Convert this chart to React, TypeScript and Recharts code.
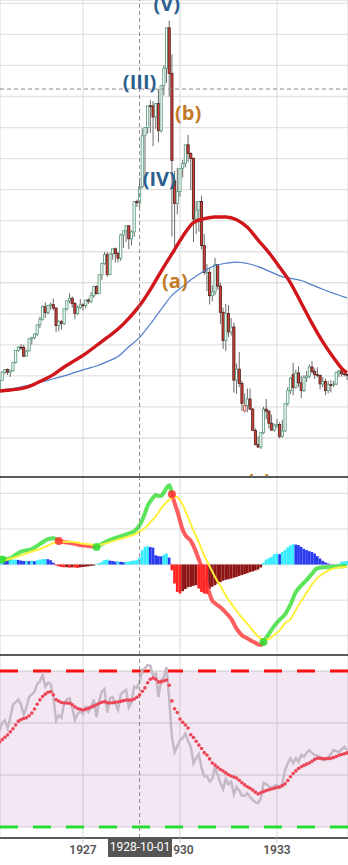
import React from "react";
import {
  ComposedChart, Bar, Line, Scatter, XAxis, YAxis, CartesianGrid,
  ReferenceLine, ReferenceArea,
} from "recharts";

// ── monthly candles, index 0 = 1924-06, last = 1935-03 ─────────────
const open = [
  90.0, 96.4, 103.1, 105.2, 103.0, 104.1, 110.9,
  120.5, 123.2, 122.8, 115.9, 120.0, 129.9, 131.0, 133.8, 141.2, 145.7, 155.7, 151.1,
  156.7, 157.4, 154.7, 140.5, 143.7, 142.3, 154.0, 160.4, 162.5, 158.2, 150.4, 155.0,
  157.2, 156.6, 161.1, 160.1, 164.6, 172.0, 166.2, 181.4, 190.6, 197.6, 181.7, 198.2,
  202.4, 198.6, 194.8, 213.5, 216.9, 220.9, 210.4, 216.0, 240.4, 239.4, 252.2, 293.4,
  300.0, 317.5, 317.4, 308.5, 319.3, 297.4, 333.8, 347.7, 380.3, 343.5, 257.0, 238.9,
  248.5, 267.1, 271.1, 286.1, 279.2, 275.1, 226.3, 233.5, 240.4, 204.9, 183.4, 183.4,
  164.6, 167.7, 189.7, 172.4, 151.2, 128.5, 150.2, 135.4, 139.4, 96.6, 105.4, 93.9,
  72.0, 76.2, 81.4, 73.3, 56.1, 44.7, 42.8, 54.3, 73.2, 71.6, 61.9, 56.4,
  59.9, 60.9, 51.4, 55.7, 77.7, 88.1, 101.0, 90.8, 102.4, 94.4, 88.2, 98.7,
  99.9, 107.2, 103.5, 101.0, 100.5, 93.6, 95.6, 88.1, 93.0, 92.6, 93.4, 102.9,
  104.0, 101.7, 101.1,
];
const high = [
  97.5, 103.5, 105.6, 106.0, 105.0, 111.4, 120.6,
  123.6, 125.7, 125.2, 121.0, 130.2, 131.4, 134.2, 141.5, 147.7, 156.8, 159.4, 157.0,
  159.1, 162.3, 155.0, 144.8, 145.0, 154.5, 160.6, 166.6, 164.0, 159.5, 156.6, 161.9,
  158.5, 161.5, 162.5, 167.4, 172.6, 172.9, 182.0, 191.0, 199.8, 199.8, 198.7, 202.4,
  203.4, 200.0, 214.5, 216.9, 220.9, 221.0, 217.3, 241.0, 242.0, 259.5, 299.4, 300.0,
  317.5, 322.1, 321.2, 319.3, 331.0, 333.8, 350.0, 380.3, 386.1, 358.8, 265.0, 267.6,
  267.1, 274.0, 286.1, 294.1, 280.0, 276.0, 240.8, 241.0, 245.1, 214.2, 190.0, 186.0,
  173.0, 195.0, 190.0, 175.0, 155.0, 157.9, 157.0, 146.5, 143.0, 110.0, 119.2, 96.0,
  85.9, 89.8, 89.9, 74.0, 57.8, 51.4, 54.5, 75.2, 81.4, 72.5, 68.9, 61.6,
  65.2, 62.8, 64.6, 77.7, 91.0, 99.0, 110.5, 105.0, 107.7, 100.0, 100.5, 104.0,
  109.0, 111.9, 106.0, 107.0, 101.0, 99.0, 98.0, 96.0, 96.5, 96.0, 103.5, 105.0,
  106.7, 104.0, 102.0,
];
const low = [
  88.3, 96.0, 101.5, 100.8, 99.2, 103.5, 109.8,
  119.5, 120.9, 115.0, 115.5, 119.8, 125.2, 129.5, 132.0, 138.7, 144.5, 146.7, 149.5,
  153.2, 152.7, 135.2, 136.0, 137.2, 141.0, 152.5, 158.5, 155.0, 145.7, 149.0, 154.0,
  152.7, 154.5, 158.0, 158.5, 163.0, 165.7, 166.0, 177.1, 189.5, 179.8, 181.0, 193.6,
  191.3, 191.3, 192.5, 203.0, 207.9, 202.0, 205.1, 212.0, 236.0, 236.0, 251.0, 254.4,
  295.0, 295.9, 285.0, 299.1, 288.0, 296.0, 326.0, 336.0, 325.0, 212.3, 198.7, 230.0,
  244.2, 259.8, 268.0, 272.2, 249.8, 207.7, 214.1, 216.1, 201.9, 181.5, 168.3, 157.5,
  160.0, 165.0, 169.5, 141.8, 121.7, 119.9, 131.3, 132.5, 86.5, 85.5, 91.0, 71.8,
  70.6, 70.6, 72.5, 55.9, 44.0, 41.9, 41.2, 53.2, 65.1, 57.7, 55.9, 55.0,
  58.0, 49.7, 50.2, 55.0, 76.0, 85.5, 84.5, 89.7, 91.0, 82.2, 87.0, 95.0,
  98.0, 101.9, 97.5, 98.8, 89.0, 90.9, 84.6, 86.0, 86.7, 91.0, 92.5, 99.0,
  99.5, 99.7, 96.7,
];
const close = [
  96.4, 103.1, 105.2, 103.0, 104.1, 110.9, 120.5,
  123.2, 122.8, 115.9, 120.0, 129.9, 131.0, 133.8, 141.2, 145.7, 155.7, 151.1, 156.7,
  157.4, 154.7, 140.5, 143.7, 142.3, 154.0, 160.4, 162.5, 158.2, 150.4, 155.0, 157.2,
  156.6, 161.1, 160.1, 164.6, 172.0, 166.2, 181.4, 190.6, 197.6, 181.7, 198.2, 202.4,
  198.6, 194.8, 213.5, 216.9, 220.9, 210.4, 216.0, 240.4, 239.4, 252.2, 293.4, 300.0,
  317.5, 317.4, 308.5, 319.3, 297.4, 333.8, 347.7, 380.3, 343.5, 273.5, 238.9, 248.5,
  267.1, 271.1, 286.1, 279.2, 275.1, 226.3, 233.5, 240.4, 204.9, 183.4, 183.4, 164.6,
  167.7, 189.7, 172.4, 151.2, 128.5, 150.2, 135.4, 139.4, 96.6, 105.4, 93.9, 77.9,
  76.2, 81.4, 73.3, 56.1, 44.7, 42.8, 54.3, 73.2, 71.6, 61.9, 56.4, 59.9,
  60.9, 51.4, 55.7, 77.7, 88.1, 98.1, 90.8, 102.4, 94.4, 88.2, 98.7, 99.9,
  107.2, 103.5, 101.0, 100.5, 93.6, 95.6, 88.1, 93.0, 92.6, 93.4, 102.9, 104.0,
  101.7, 101.1, 100.8,
];

// moving averages (read every 4 months)
const maMonths = [0, 4, 8, 12, 16, 20, 24, 28, 32, 36, 40, 44, 48, 52, 56, 60, 64,
  68, 72, 76, 80, 84, 88, 92, 96, 100, 104, 108, 112, 116, 120, 124, 128, 129];
const maRed = [87.8, 88.7, 89.7, 92.4, 96.5, 101.0, 107.2, 112.5, 118.0, 124.5, 131.0,
  137.7, 146.4, 156.6, 169.5, 184.2, 198.2, 212.3, 223.5, 226.6, 228.0, 228.0, 225.8,
  219.7, 209.4, 199.3, 187.5, 175.0, 158.7, 142.3, 127.4, 114.7, 104.0, 102.8];
const maBlue = [88.5, 89.5, 91.2, 93.1, 95.3, 97.7, 100.0, 102.8, 105.5, 108.0, 111.5,
  115.6, 123.5, 131.0, 141.8, 153.5, 164.8, 172.1, 178.8, 184.5, 188.8, 190.7, 191.7,
  190.5, 188.0, 184.4, 180.6, 178.5, 176.8, 173.3, 169.8, 166.5, 163.5, 162.9];

// MACD line / signal
const macdMonths = [0, 1, 2, 4, 6, 8, 10, 12, 14, 16, 18, 20, 22, 24, 26, 28, 30, 32, 34,
  36, 38, 40, 42, 44, 46, 48, 50, 52, 53, 54, 55, 56, 57, 58, 59, 60, 61, 62, 63, 64, 65,
  66, 67, 68, 69, 70, 71, 72, 73, 74, 75, 76, 77, 78, 79, 80, 81, 82, 84, 86, 88, 90, 92,
  94, 96, 97, 98, 100, 102, 104, 106, 108, 110, 112, 114, 116, 118, 120, 124, 129];
const macdVals = [2.5, 2.8, 3.0, 3.5, 5.5, 7.2, 8.0, 8.7, 10.5, 12.5, 14.2, 14.8, 13.2,
  12.6, 12.2, 11.6, 11.0, 10.6, 10.2, 9.8, 11.5, 13.2, 14.4, 15.3, 16.4, 17.5, 18.6, 22.0,
  25.0, 28.8, 33.0, 35.5, 37.5, 39.0, 38.5, 38.5, 40.5, 43.0, 44.5, 39.5, 34.5, 30.0, 24.5,
  19.5, 16.5, 14.8, 13.3, 10.5, 6.8, 2.8, -1.5, -7.0, -11.0, -16.5, -20.3, -21.8, -23.0,
  -24.0, -27.0, -30.5, -36.0, -39.8, -41.5, -43.2, -44.8, -45.2, -43.5, -39.0, -34.5,
  -31.0, -28.0, -22.6, -15.5, -11.8, -8.7, -5.2, -2.1, -1.6, -1.3, -0.8];
const sigMonths = [0, 4, 8, 12, 16, 20, 22, 26, 30, 34, 36, 40, 44, 48, 50, 52, 54, 56,
  58, 60, 62, 64, 65, 66, 67, 68, 70, 72, 74, 76, 78, 80, 82, 84, 86, 88, 90, 92, 94, 96,
  98, 100, 102, 104, 106, 108, 110, 112, 114, 116, 118, 120, 124, 129];
const sigVals = [1.5, 3.2, 5.2, 7.3, 9.3, 12.0, 12.8, 12.8, 12.0, 11.2, 11.0, 12.1, 14.0,
  15.8, 16.8, 18.5, 20.5, 23.8, 27.0, 31.5, 35.0, 37.5, 38.0, 37.8, 36.0, 33.5, 26.5, 19.0,
  12.5, 5.0, -1.0, -7.0, -12.0, -17.5, -22.0, -26.0, -30.0, -33.3, -37.0, -40.5, -42.2,
  -41.8, -39.5, -37.0, -33.0, -30.8, -25.6, -20.5, -15.8, -11.2, -7.5, -5.2, -2.2, -1.4];
// months where MACD crosses its signal (first one is bullish)
const macdTurns = [1, 22, 36, 64, 98];

const hist = [
  2.8, 2.8, 2.6, 2.4, 2.5, 2.6, 2.7,
  2.6, 2.2, 2.0, 2.0, 1.9, 2.1, 1.9, 2.4, 2.8, 3.0, 3.1, 3.0,
  2.4, 1.0, -0.5, -1.0, -1.4, -1.6, -1.5, -1.8, -1.6, -1.7, -1.9, -1.6,
  -1.4, -1.2, -1.0, -0.8, -0.6, 0.3, 0.8, 1.5, 2.5, 2.8, 2.2, 2.0,
  1.6, 1.8, 1.5, 1.3, 1.4, 1.6, 2.0, 2.3, 2.4, 3.9, 8.0, 9.9,
  10.3, 9.8, 9.5, 5.2, 4.7, 4.6, 5.5, 6.2, 3.9, -3.2, -10.7, -15.4,
  -16.3, -15.0, -13.8, -12.8, -12.5, -12.0, -11.6, -13.5, -15.4, -16.3, -16.5, -13.5,
  -12.5, -11.6, -10.7, -9.9, -9.1, -8.6, -8.3, -7.9, -7.4, -7.0, -6.4, -5.9,
  -5.4, -4.9, -4.3, -3.9, -3.3, -2.8, -1.7, 1.0, 2.8, 3.6, 4.3, 5.8,
  6.2, 5.8, 7.0, 8.1, 9.6, 10.7, 11.4, 11.2, 10.9, 9.9, 8.8, 8.1,
  7.5, 7.0, 6.2, 4.7, 3.4, 2.1, 1.2, 0.6, 0.2, 0.1, 0.1, 0.4,
  1.5, 1.8, 2.0,
];

// oscillator (grey) and its smoothing (red dots)
const rsi = [
  57, 60, 61, 58, 62, 67, 68,
  69, 67, 63, 66, 70, 71, 72, 75, 76, 78.5, 74, 75.5,
  75, 70, 61, 63, 62, 67.7, 69, 69.5, 66, 61.2, 63.5, 64.5,
  63.5, 66, 64.2, 66, 69, 62.3, 68.5, 72, 73, 64, 69.5, 70,
  67.5, 65, 71, 72, 72.7, 66, 68, 74, 73.5, 75.8, 80.4, 81,
  82.3, 82, 78, 79, 70, 76.5, 77.5, 81.5, 69, 54.6, 48.8, 51,
  53.5, 54.2, 56, 53, 51, 44.5, 46.5, 48, 42.7, 39.5, 39.5, 37.5,
  38.5, 43, 40, 37, 34.5, 38.5, 36.5, 37.5, 32.5, 35.4, 34, 32,
  32, 33, 31.5, 30.4, 29.5, 29.2, 31, 36.9, 36.5, 35.5, 35, 35.7,
  36.2, 35.2, 36.9, 41.9, 44.5, 46.5, 44.6, 46.5, 45, 47.7, 47, 48.5,
  49.6, 48.5, 47.7, 47.5, 46.9, 45.8, 46.2, 46.9, 48, 49.6, 49.2, 48.8,
  49.8, 50.8, 49.6,
];
const rsiSmooth = [
  52.7, 53.6, 54.5, 55.4, 56.6, 57.8, 59.2,
  60.7, 61.3, 61.7, 62.0, 62.8, 63.8, 65.4, 67.2, 68.9, 70.2, 71.1, 71.8,
  72.0, 70.8, 69.0, 68.4, 67.9, 67.7, 67.7, 67.6, 67.0, 66.2, 65.6, 65.3,
  65.0, 65.3, 65.7, 66.1, 66.5, 67.0, 67.6, 68.0, 68.2, 67.8, 67.7, 67.8,
  68.0, 68.1, 68.3, 68.6, 68.8, 68.8, 68.8, 69.2, 69.9, 70.8, 72.2, 73.5,
  75.5, 76.8, 77.3, 76.8, 75.8, 75.8, 76.2, 76.5, 74.5, 68.5, 65.5, 64.0,
  61.5, 60.3, 59.2, 58.1, 55.5, 54.4, 53.0, 51.5, 50.2, 48.6, 47.7, 46.2,
  44.6, 43.8, 43.0, 42.1, 41.5, 40.8, 40.1, 39.6, 39.2, 38.8, 38.0, 37.0,
  36.2, 35.5, 34.9, 34.2, 33.4, 32.7, 33.2, 33.6, 34.0, 34.3, 34.6, 34.9,
  35.2, 35.4, 35.9, 36.6, 37.9, 39.3, 40.6, 41.6, 42.5, 43.2, 43.7, 44.2,
  44.6, 45.3, 46.0, 46.4, 46.4, 46.3, 46.2, 46.3, 46.4, 46.7, 47.1, 47.6,
  47.9, 48.2, 48.5,
];

// Elliott wave annotations (month index, price)
const waveText = ["(V)", "(III)", "(b)", "(IV)", "(a)", "(c)"];
const waveMonth = [62.1, 52.0, 70.0, 59.3, 65.1, 96.4];
const wavePrice = [399.5, 336.9, 312.1, 258.6, 177.2, 15.9];
const waveKind = ["impulse", "impulse", "corrective", "impulse", "corrective", "corrective"];

const tickMonths = [31, 67, 103];
const tickLabels = ["1927", "1930", "1933"];
const priceGrid = [25, 50, 75, 100, 125, 150, 175, 200, 225, 250, 275, 300, 325, 350, 375, 400];
const cursorMonth = 52;
const cursorPrice = 331.0;
const cursorLabel = "1928-10-01";

// ── styles ─────────────────────────────────────────────────────
const W = 348;
const X_DOMAIN: [number, number] = [0.19, 129.36];
const M0 = { top: 0, right: 0, bottom: 0, left: 0 };
const GRID = "#e2e2e2";
const CROSS = "#8a8a8a";
const UP = "#5f9f80";
const DOWN_FILL = "#cf3f37";
const DOWN_EDGE = "#4d1c18";
const WICK = "#6b6b6b";
const MACD_UP = "#2fdc2f";
const MACD_DN = "#ff3030";
const waveColor: Record<string, string> = { impulse: "#2c5f8d", corrective: "#c27b2a" };

const candles = close.map((c, i) => ({
  i, o: open[i], h: high[i], l: low[i], c, pc: i ? close[i - 1] : open[i],
}));
const maRows = maMonths.map((i, k) => ({ i, red: maRed[k], blue: maBlue[k] }));
const macdRows = macdMonths.map((i, k) => ({ i, v: macdVals[k] }));
const sigRows = sigMonths.map((i, k) => ({ i, v: sigVals[k] }));
const segEdges = [0, ...macdTurns.slice(1), 129];
const macdSegs = segEdges.slice(0, -1).map((a, s) => ({
  color: s % 2 ? MACD_DN : MACD_UP,
  rows: macdRows.filter(r => r.i >= a && r.i <= segEdges[s + 1]),
}));
const turnRows = macdTurns.map((m, k) => ({
  i: m, v: macdRows.find(r => r.i === m)?.v ?? 0, up: k % 2 === 0,
}));
const histRows = hist.map((h, i) => ({ i, h, prev: i ? hist[i - 1] : h }));
const rsiRows = rsi.map((r, i) => ({ i, r, s: rsiSmooth[i] }));
const waveRows = waveText.map((t, k) => ({ i: waveMonth[k], p: wavePrice[k], t, kind: waveKind[k] }));

function Candle(props: any) {
  const { x, y, width, height, payload } = props;
  if (!payload || x == null) return null;
  const cx = x + width / 2;
  const top = Math.min(y, y + height);
  const bot = Math.max(y, y + height);
  const k = (bot - top) / Math.max(payload.h - payload.l, 1e-6);
  const py = (v: number) => bot - (v - payload.l) * k;
  const bTop = py(Math.max(payload.o, payload.c));
  const bBot = Math.max(py(Math.min(payload.o, payload.c)), bTop + 0.8);
  const rising = payload.c >= payload.o;
  const bw = 2.2;
  return (
    <g>
      <line x1={cx} x2={cx} y1={top} y2={bTop} stroke={WICK} strokeWidth={1} />
      <line x1={cx} x2={cx} y1={bBot} y2={bot} stroke={WICK} strokeWidth={1} />
      {rising ? (
        <rect x={cx - bw / 2} y={bTop} width={bw} height={bBot - bTop} fill="#fff"
          stroke={payload.c < payload.pc ? "#e0463f" : UP} strokeWidth={0.9} />
      ) : (
        <rect x={cx - bw / 2} y={bTop} width={bw} height={bBot - bTop} fill={DOWN_FILL}
          stroke={DOWN_EDGE} strokeWidth={0.8} />
      )}
    </g>
  );
}

function HistBar(props: any) {
  const { x, y, width, height, payload } = props;
  if (!payload || x == null) return null;
  const { h, prev } = payload;
  const fill = h >= 0 ? (h >= prev ? "#36ecff" : "#2a3cf0") : (h <= prev ? "#ff2020" : "#8e1414");
  const cx = x + width / 2;
  return <rect x={cx - 1.35} y={Math.min(y, y + height)} width={2.7} height={Math.abs(height)} fill={fill} />;
}

function WaveLabel(props: any) {
  const { cx, cy, payload } = props;
  return (
    <text x={cx} y={cy} textAnchor="middle" dominantBaseline="central"
      fill={waveColor[payload.kind]} fontSize={20} fontWeight={700}
      fontFamily="'Open Sans', sans-serif">{payload.t}</text>
  );
}

function TurnDot(props: any) {
  const { cx, cy, payload } = props;
  return <circle cx={cx} cy={cy} r={4} fill={payload.up ? MACD_UP : MACD_DN} fillOpacity={0.85} />;
}

const xAxisHidden = (
  <XAxis type="number" dataKey="i" domain={X_DOMAIN} ticks={tickMonths} allowDataOverflow hide />
);

function PricePanel() {
  return (
    <ComposedChart width={W} height={477} data={candles} margin={M0}>
      <CartesianGrid stroke={GRID} strokeWidth={1.3} />
      {xAxisHidden}
      <YAxis type="number" domain={[18.6, 402.7]} ticks={priceGrid} allowDataOverflow hide />
      <Bar dataKey={(d: any) => [d.l, d.h]} shape={(p: any) => <Candle {...p} />} isAnimationActive={false} />
      <Line data={maRows} dataKey="blue" type="monotone" stroke="#4f7fc9" strokeWidth={1.2}
        dot={false} isAnimationActive={false} />
      <Line data={maRows} dataKey="red" type="monotone" stroke="#d0161b" strokeWidth={3.4}
        dot={false} isAnimationActive={false} />
      <Scatter data={waveRows} dataKey="p" shape={(p: any) => <WaveLabel {...p} />} isAnimationActive={false} />
      <ReferenceLine x={cursorMonth} stroke={CROSS} strokeDasharray="4 3" />
      <ReferenceLine y={cursorPrice} stroke={CROSS} strokeDasharray="4 3" />
    </ComposedChart>
  );
}

function MacdPanel() {
  return (
    <ComposedChart width={W} height={178} data={histRows} margin={M0}>
      <CartesianGrid stroke={GRID} strokeWidth={1.3} />
      {xAxisHidden}
      <YAxis type="number" domain={[-50.84, 49.16]} ticks={[-40, -20, 0, 20, 40]} allowDataOverflow hide />
      <Bar dataKey="h" shape={(p: any) => <HistBar {...p} />} isAnimationActive={false} />
      {macdSegs.map((s, k) => (
        <Line key={k} data={s.rows} dataKey="v" type="monotone" stroke={s.color} strokeOpacity={0.78}
          strokeWidth={4} dot={false} isAnimationActive={false} />
      ))}
      <Line data={sigRows} dataKey="v" type="monotone" stroke="#fff03a" strokeWidth={2}
        dot={false} isAnimationActive={false} />
      <Scatter data={turnRows} dataKey="v" shape={(p: any) => <TurnDot {...p} />} isAnimationActive={false} />
      <ReferenceLine x={cursorMonth} stroke={CROSS} strokeDasharray="4 3" />
    </ComposedChart>
  );
}

function OscPanel() {
  return (
    <ComposedChart width={W} height={210} data={rsiRows} margin={M0}>
      <CartesianGrid stroke={GRID} strokeWidth={1.3} />
      <ReferenceArea y1={20} y2={80} fill="#a545a5" fillOpacity={0.13} stroke="none" />
      <XAxis type="number" dataKey="i" domain={X_DOMAIN} ticks={tickMonths} allowDataOverflow
        height={27} tickSize={5}
        tickFormatter={(v: number) => tickLabels[tickMonths.indexOf(v)]}
        tick={{ fill: "#555", fontSize: 12, fontWeight: 600, fontFamily: "Roboto, sans-serif" }}
        tickLine={{ stroke: "#cfcfcf" }}
        axisLine={{ stroke: "#5a5a5a", strokeWidth: 2 }} />
      <YAxis type="number" domain={[15.77, 86.15]} ticks={[20, 40, 60, 80]} allowDataOverflow hide />
      <ReferenceLine y={80} stroke="#ff1010" strokeWidth={3} strokeDasharray="18 15" />
      <ReferenceLine y={20} stroke="#26dd36" strokeWidth={3} strokeDasharray="18 15" />
      <Line dataKey="r" type="linear" stroke="#c4b9c5" strokeWidth={2.5} dot={false} isAnimationActive={false} />
      <Line dataKey="s" type="linear" stroke="none" strokeWidth={0}
        dot={{ r: 1.8, fill: "#ec4656", stroke: "none", strokeWidth: 0 }} isAnimationActive={false} />
      <ReferenceLine x={cursorMonth} stroke={CROSS} strokeDasharray="4 3" />
    </ComposedChart>
  );
}

export default function App() {
  const abs = (top: number): React.CSSProperties => ({ position: "absolute", left: 0, top });
  return (
    <div style={{ position: "absolute", left: 0, top: 0, width: W, height: 865, background: "#fff",
      overflow: "hidden", fontFamily: "Roboto, sans-serif" }}>
      <div style={abs(0)}><PricePanel /></div>
      <div style={abs(477)}><MacdPanel /></div>
      <div style={abs(655)}><OscPanel /></div>
      <div style={{ ...abs(476), width: W, height: 2, background: "#5a5a5a" }} />
      <div style={{ ...abs(654), width: W, height: 2, background: "#5a5a5a" }} />
      <div style={{ ...abs(838), left: 108, width: 64, height: 19, background: "#555", color: "#fff",
        fontSize: 12, lineHeight: "19px", textAlign: "center", fontFamily: "Roboto, sans-serif" }}>
        {cursorLabel}
      </div>
    </div>
  );
}
